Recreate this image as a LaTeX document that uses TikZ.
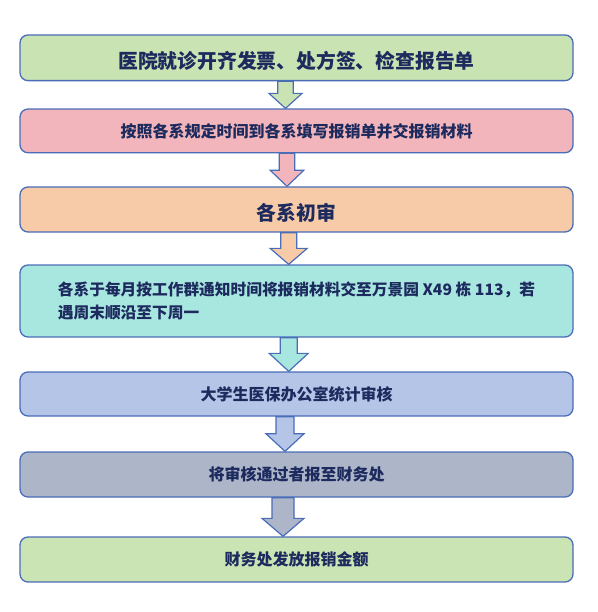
\documentclass[tikz,border=0pt]{standalone}
\usepackage{fontspec}
\setmainfont{Noto Sans CJK SC}
\usetikzlibrary{calc}
\definecolor{bordc}{HTML}{4A6DB8}
\definecolor{txtc}{HTML}{1C2A5E}
\definecolor{cone}{HTML}{C9E3B3}
\definecolor{ctwo}{HTML}{F2B5BC}
\definecolor{cthree}{HTML}{F7CBA7}
\definecolor{cfour}{HTML}{A8E6E0}
\definecolor{cfive}{HTML}{B4C5E7}
\definecolor{csix}{HTML}{ADB5C8}
\definecolor{cseven}{HTML}{CBE4B4}
\newcommand{\flowarrow}[7]{%
  \draw[barrow, fill=#7] let \p1=(#1.south), \p2=(#2.north) in
    (#3pt-#4pt,\y1) -- (#3pt-#4pt,\y2+#6pt) -- (#3pt-#5pt,\y2+#6pt) -- (#3pt,\y2)
    -- (#3pt+#5pt,\y2+#6pt) -- (#3pt+#4pt,\y2+#6pt) -- (#3pt+#4pt,\y1) -- cycle;}
\newcommand{\lowered}[1]{\raisebox{-3pt}[\height][\depth]{#1}}
\begin{document}
\begin{tikzpicture}[x=1pt,y=-1pt,
  box/.style={draw=bordc, line width=1.3pt, rounded corners=8pt, minimum width=553pt,
    inner sep=0pt, text=txtc, font=\bfseries\fontsize{16}{20}\selectfont},
  bigtext/.style={font=\bfseries\fontsize{19.8}{24}\selectfont},
  barrow/.style={draw=bordc, line width=1.2pt, line join=miter}]
\useasboundingbox (0,0) rectangle (597,612);
\node[box, bigtext, fill=cone, minimum height=45.7pt] (b1) at (296.5,57.8) {\lowered{医院就诊开齐发票、处方签、检查报告单}};
\node[box, fill=ctwo, minimum height=43.7pt] (b2) at (296.5,130.9) {按照各系规定时间到各系填写报销单并交报销材料};
\node[box, bigtext, fill=cthree, minimum height=45pt] (b3) at (296.5,209.5) {\lowered{各系初审}};
\node[box, fill=cfour, minimum height=72pt, align=left, font=\bfseries\fontsize{15.7}{23}\selectfont] (b4) at (296.5,301) {各系于每月按工作群通知时间将报销材料交至万景园 X49 栋 113，若\\遇周末顺沿至下周一};
\node[box, fill=cfive, minimum height=44pt] (b5) at (296.5,394) {大学生医保办公室统计审核};
\node[box, fill=csix, minimum height=45pt] (b6) at (296.5,474.5) {将审核通过者报至财务处};
\node[box, fill=cseven, minimum height=45pt] (b7) at (296.5,559.5) {财务处发放报销金额};
\flowarrow{b1}{b2}{285.5}{7.8}{16.5}{15}{cone}
\flowarrow{b2}{b3}{287}{7.8}{16.7}{16}{ctwo}
\flowarrow{b3}{b4}{288.7}{8}{18.5}{16}{cthree}
\flowarrow{b4}{b5}{288.7}{8.5}{19.5}{18}{cfour}
\flowarrow{b5}{b6}{285}{9}{19}{17.6}{cfive}
\flowarrow{b6}{b7}{283}{11}{21}{18}{csix}
\end{tikzpicture}
\end{document}
